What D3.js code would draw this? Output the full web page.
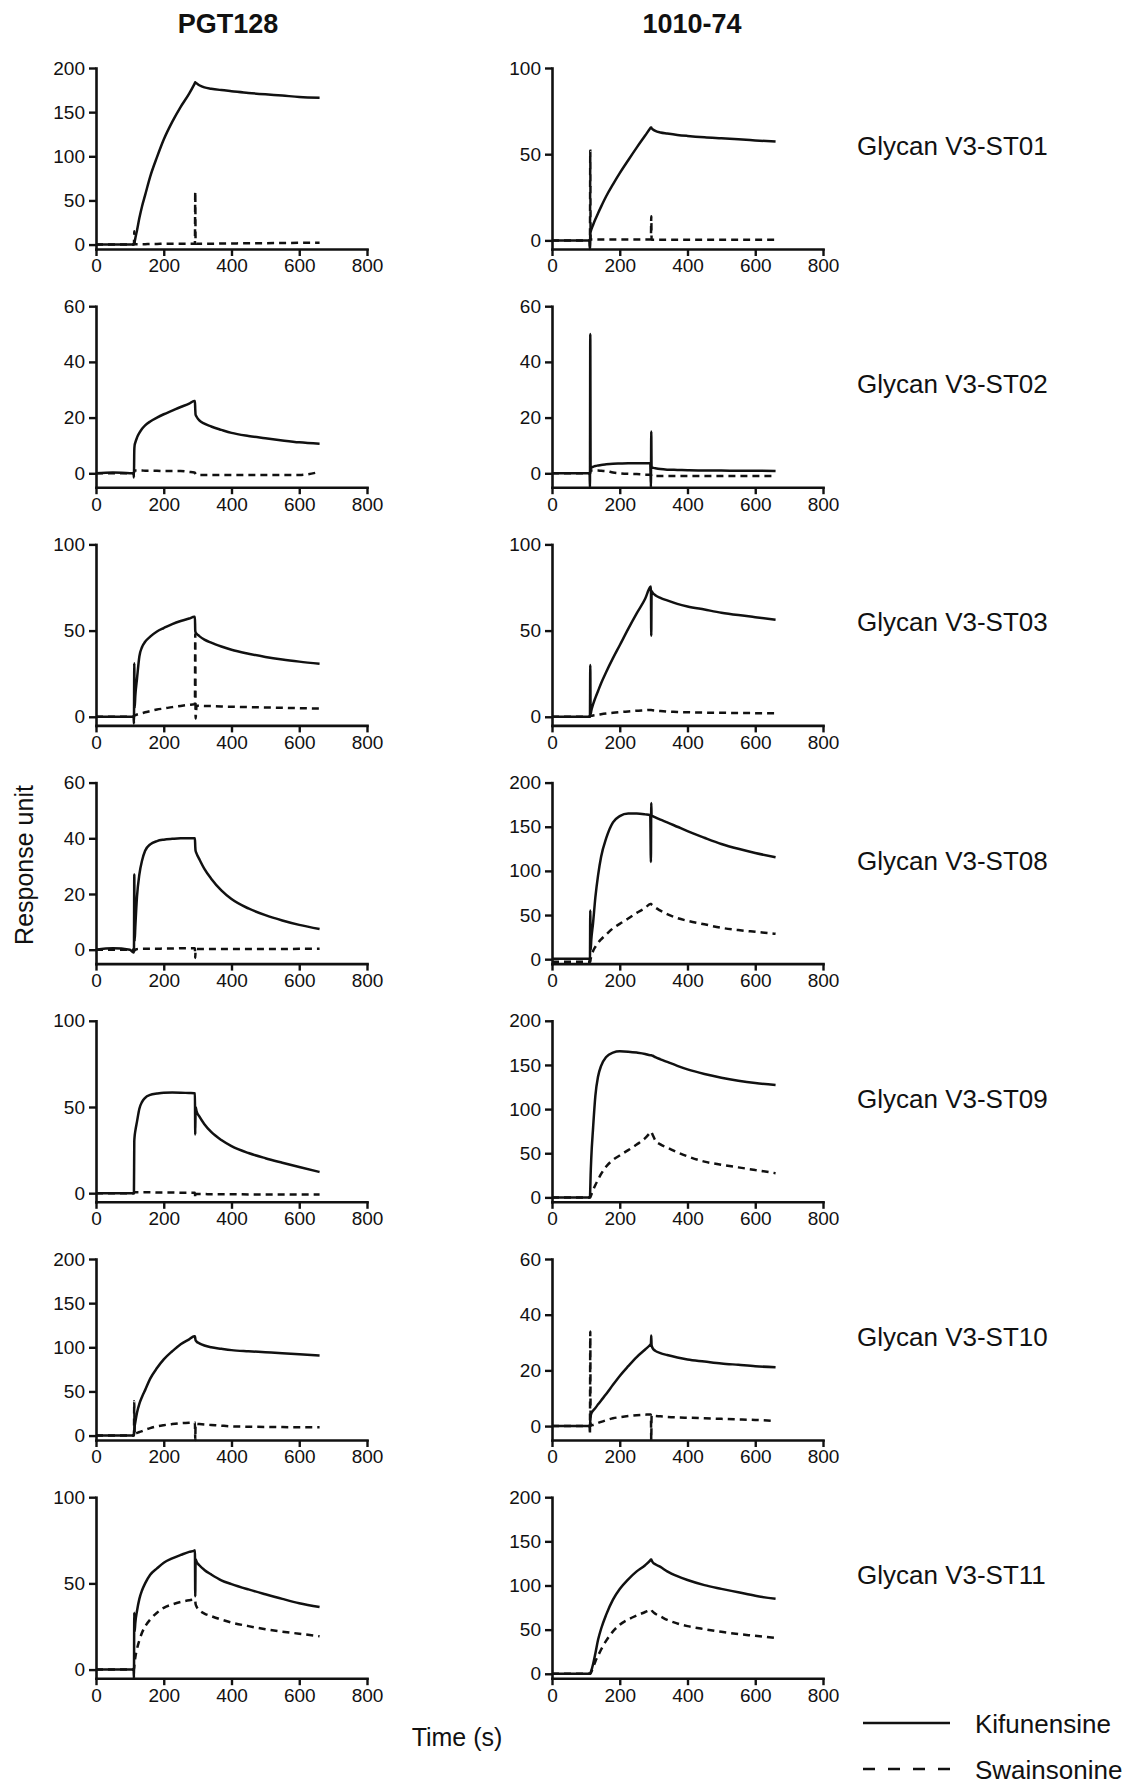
<!DOCTYPE html>
<html>
<head>
<meta charset="utf-8">
<script src="https://cdn.jsdelivr.net/npm/d3@7"></script>
<style>
  body { margin: 0; background: #fff; }
  text { font-family: "Liberation Sans", Arial, sans-serif; fill: #111; }
</style>
</head>
<body>
<div id="container"></div>
<script>
//----------------------------DATA----------------------------//
// shared time grid (s); 113 s = injection start, 293 s = dissociation start
const times = [0, 50, 100, 111, 112, 113, 114, 116, 121, 128, 136, 145, 160, 180, 200, 225, 250,
               275, 290, 292, 293, 294, 297, 305, 320, 340, 370, 400, 450, 500, 550, 600, 660];
const xTicks = [0, 200, 400, 600, 800];
const antibodies = ["PGT128", "1010-74"];
const glycans = ["Glycan V3-ST01", "Glycan V3-ST02", "Glycan V3-ST03", "Glycan V3-ST08",
                 "Glycan V3-ST09", "Glycan V3-ST10", "Glycan V3-ST11"];
const yMaxPGT128 = [200, 60, 100, 60, 100, 200, 100];
const yMax1010 = [100, 60, 100, 200, 200, 60, 200];
const yStepPGT128 = [50, 20, 50, 20, 50, 50, 50];
const yStep1010 = [50, 20, 50, 50, 50, 20, 50];
const legendLabels = ["Kifunensine", "Swainsonine"];

// PGT128
const kifPGT128_ST01 = [0,0,0,0,0,1,3,7,16,30,43.5,56,77,99,119,139,156,171,181.5,183,184,183,182.5,180.5,178,176.5,175,173.8,171.8,170.2,168.8,167.2,166.4];
const swaPGT128_ST01 = [0,0,0,0,0,15,0.5,0.5,0.5,0.5,0.5,0.5,0.8,0.8,1,1,1,1,1,1,60,1,1,1,1,1,1.2,1.3,1.5,1.6,1.8,2,2.2];
const kifPGT128_ST02 = [0,0.3,0,0,-1.5,8,10,11,12.8,14.5,16,17.2,18.6,20,21.2,22.5,23.8,25,26,26,23,21,20.3,19,17.8,16.8,15.6,14.5,13.4,12.6,11.8,11.1,10.6];
const swaPGT128_ST02 = [0,0,0,0,0,1,1,1,1,1,1,0.9,0.9,0.9,0.8,0.8,0.8,0.5,0.3,0.2,0,-0.3,-0.5,-0.6,-0.6,-0.6,-0.6,-0.6,-0.6,-0.6,-0.6,-0.6,0.5];
const kifPGT128_ST03 = [0,0,0,0,-4,31,5,12,22,35,40.5,43.5,46.5,49.5,51.5,53.8,55.6,57,58,58,50,49,48.2,46.8,44.8,43,40.8,38.9,36.6,34.7,33.2,32,30.8];
const swaPGT128_ST03 = [0,0,0,0,0,0.5,0.8,1,1.3,1.7,2.1,2.6,3.3,4.2,4.8,5.6,6.3,6.9,7.2,7.2,48,-1,6.5,6.4,6.3,6.2,6,5.8,5.6,5.4,5.2,5,4.8];
const kifPGT128_ST08 = [0,0.5,0,-1,-1,27,3,8,19,27,32,35.5,37.8,39,39.5,39.8,40,40,40,40,37,35.5,34.5,32.5,29,25.5,21.3,18.2,14.8,12.4,10.5,8.9,7.4];
const swaPGT128_ST08 = [0,0,0,0,0,0,-0.3,0,0.2,0.3,0.3,0.3,0.3,0.3,0.4,0.4,0.5,0.5,0.5,0.5,-3,0.2,0.2,0.2,0.2,0.2,0.2,0.2,0.2,0.2,0.2,0.3,0.3];
const kifPGT128_ST09 = [0,0,0,0,0,30,33,36,41.5,49,53,55.3,57,57.8,58.3,58.4,58.3,58.1,58,57.9,34,50,47.5,44.5,40,35.5,30.8,27.3,23.3,20.3,17.7,15.2,12.3];
const swaPGT128_ST09 = [0,0,0,0,0,0.5,0.5,0.5,0.5,0.5,0.5,0.5,0.5,0.4,0.4,0.4,0.3,0.3,0.3,0.3,-3,-0.3,-0.5,-0.5,-0.5,-0.6,-0.6,-0.6,-0.7,-0.7,-0.7,-0.8,-0.8];
const kifPGT128_ST10 = [0,0,0,0,0,5,10,15,26,36,44,51.5,64.5,76.5,86.3,95.5,103.5,109,112.5,112.5,110,108,106.5,104.5,102,100,98.3,96.8,95.5,94.4,93.3,92,90.8];
const swaPGT128_ST10 = [0,0,0,0,0,39,1,2,3,4,5,6.5,8.5,10.5,11.8,13,14,14.6,15,15,-5,13.5,13.3,13,12.5,12,11.2,10.5,10,9.8,9.6,9.5,9.4];
const kifPGT128_ST11 = [0,0,0,0,-5,33,22,27,34,41,46,50,55,58.7,62,64.5,66.5,68.3,69,69.2,42.5,64,62.5,60.5,57.8,55.2,51.8,49.6,46.5,43.7,41,38.5,36.3];
const swaPGT128_ST11 = [0,0,0,0,0,2,4,7,12,17,21.5,25,29,33,35.8,37.8,39.2,40.2,40.6,40.6,40,38,36.5,34.5,32.5,31,29,27.3,25.2,23.4,22,20.8,19.3];

// 1010-74
const kif1010_ST01 = [0,0,0,0,-5,4,5,6.2,8.8,12.2,15.8,19.6,25.6,32.5,39,46.5,53.8,60.8,65,65.5,65.5,65,64.5,63.5,62.6,62,61.2,60.6,59.8,59.2,58.6,58,57.3];
const swa1010_ST01 = [0,0,0,0,-5,52,0.5,0.5,0.5,0.5,0.5,0.5,0.5,0.5,0.5,0.5,0.5,0.5,0.5,0.5,14,0.3,0.3,0.3,0.3,0.3,0.3,0.3,0.3,0.3,0.3,0.3,0.3];
const kif1010_ST02 = [0,0,0,0,-5,50,1.5,2,2.3,2.6,2.8,3,3.2,3.4,3.5,3.6,3.6,3.6,3.6,-5,15,2.2,2,1.8,1.5,1.3,1.2,1.1,1,1,0.9,0.9,0.8];
const swa1010_ST02 = [0,0,0,0,0,0,1,1,1,1,1,0.9,0.8,0.3,0,-0.2,-0.3,-0.5,-0.5,-0.5,-0.7,-1,-1,-1,-1,-1,-1,-1,-1,-1,-1,-1,-1];
const kif1010_ST03 = [0,0,0,0,0,30,1.5,3.5,7,11,15,19.5,26,34,41.5,51,60,68.5,75.3,75.6,47,73,72,70.5,69,67.5,65.5,64,62.2,60.4,59,57.8,56.3];
const swa1010_ST03 = [0,0,0,0,0,0.3,0.5,0.6,0.8,1,1.2,1.5,1.9,2.3,2.7,3.1,3.5,3.8,4,4,4,3.9,3.8,3.6,3.3,3,2.8,2.6,2.4,2.3,2.2,2.1,2];
const kif1010_ST08 = [0.5,0.5,0.5,0.5,-3,55,10,22,40,70,95,116,137,155,162,165,165,164,163,110,177,162.5,162,160.5,158,155,150,145,137.5,130.5,125,120.3,115.5];
const swa1010_ST08 = [-3,-3,-3,-3,-3,-3,0,3,9,14,18.5,22.5,28,35,40,46,52.5,58,62.5,62.5,62.5,62,61,58.5,55,51,46.5,43.5,39.5,35.5,33,31,28.7];
const kif1010_ST09 = [0,0,0,0,0,10,25,45,77,115,137,149,159,164,165.5,165,164,162.5,161,161,161,160.8,160.4,158.8,156.4,153.4,149,145,139.8,135.6,132.2,129.5,127.2];
const swa1010_ST09 = [0,0,0,0,0,0,1,3,8,14,20,26.5,35,42.5,47.5,53.5,59.8,67,73.5,74.4,74.4,73.5,71,64.5,60,56.5,51,46.5,40.5,37,34,31,27.4];
const kif1010_ST10 = [0,0,0,0,0,2,3.5,4.5,5.5,6.5,7.8,9.2,11.5,14.8,18,21.5,24.8,27.5,29.2,29.5,32.5,29,28,27,26.2,25.5,24.6,23.9,23.2,22.5,22,21.5,21.1];
const swa1010_ST10 = [0,0,0,0,-3,34,0,0.2,0.4,0.7,1.1,1.5,2.1,2.8,3.2,3.6,3.9,4.1,4.2,4.2,-5,3.8,3.7,3.6,3.5,3.3,3.1,3,2.8,2.6,2.4,2.2,1.8];
const kif1010_ST11 = [0,0,0,0,0,0.5,1.5,3.5,10.5,23,38.5,51,67,84,96,107,116,123,128.5,129.4,129.4,128.5,126.5,124,121,116,110.5,106.2,100.4,96.2,92.3,88.3,85];
const swa1010_ST11 = [0,0,0,0,0,0,0.5,2,7,14,20.5,27.5,37.5,48,55.5,61.5,66,70,72.5,72.8,72.8,72,70.5,68,65,61,57,54,50.5,47.5,45,43,40.5];

const kifSeries = [
    [kifPGT128_ST01, kifPGT128_ST02, kifPGT128_ST03, kifPGT128_ST08, kifPGT128_ST09, kifPGT128_ST10, kifPGT128_ST11],
    [kif1010_ST01, kif1010_ST02, kif1010_ST03, kif1010_ST08, kif1010_ST09, kif1010_ST10, kif1010_ST11]
];
const swaSeries = [
    [swaPGT128_ST01, swaPGT128_ST02, swaPGT128_ST03, swaPGT128_ST08, swaPGT128_ST09, swaPGT128_ST10, swaPGT128_ST11],
    [swa1010_ST01, swa1010_ST02, swa1010_ST03, swa1010_ST08, swa1010_ST09, swa1010_ST10, swa1010_ST11]
];
const yMaxes = [yMaxPGT128, yMax1010];
const ySteps = [yStepPGT128, yStep1010];

//---------------------------LAYOUT---------------------------//
const width = 1145, height = 1786;
const colX = [96, 552];
const plotW = 271, plotH = 181;
const rowTop0 = 68, rowGap = 238.2;
const titleX = [228, 692];
const dash = "7,5";

const svg = d3.select("#container").append("svg")
    .attr("width", width)
    .attr("height", height)
    .style("display", "block");
svg.append("rect").attr("width", width).attr("height", height).attr("fill", "#fff");

// column titles
antibodies.forEach(function (name, c) {
    svg.append("text")
        .attr("x", titleX[c])
        .attr("y", 33)
        .attr("text-anchor", "middle")
        .style("font-size", "27px")
        .style("font-weight", "bold")
        .text(name);
});

const line = d3.line()
    .curve(d3.curveMonotoneX);

function styleAxis(g) {
    g.selectAll("path.domain").attr("stroke", "#111").attr("stroke-width", 2.6).attr("stroke-linecap", "square");
    g.selectAll(".tick line").attr("stroke", "#111").attr("stroke-width", 2.4);
    g.selectAll(".tick text").style("font-size", "19px").attr("fill", "#111")
        .style("font-family", '"Liberation Sans", Arial, sans-serif');
}

for (let c = 0; c < 2; c++) {
    for (let r = 0; r < glycans.length; r++) {
        const top = rowTop0 + r * rowGap;
        const x = d3.scaleLinear().domain([0, 800]).range([colX[c], colX[c] + plotW]);
        const y = d3.scaleLinear().domain([-5, yMaxes[c][r]]).range([top + plotH, top]);

        const g = svg.append("g").attr("class", "panel");

        g.append("g")
            .attr("transform", "translate(0," + (top + plotH) + ")")
            .call(d3.axisBottom(x).tickValues(xTicks).tickSize(7).tickSizeOuter(0).tickPadding(3))
            .call(styleAxis);

        g.append("g")
            .attr("transform", "translate(" + colX[c] + ",0)")
            .call(d3.axisLeft(y)
                .tickValues(d3.range(0, yMaxes[c][r] + 1, ySteps[c][r]))
                .tickSize(7).tickSizeOuter(0).tickPadding(4))
            .call(styleAxis);

        line.x(function (d, i) { return x(times[i]); })
            .y(function (d) { return y(d); });

        g.append("path")
            .attr("d", line(kifSeries[c][r]))
            .attr("fill", "none")
            .attr("stroke", "#111")
            .attr("stroke-width", 2.5)
            .attr("stroke-linejoin", "round");

        g.append("path")
            .attr("d", line(swaSeries[c][r]))
            .attr("fill", "none")
            .attr("stroke", "#111")
            .attr("stroke-width", 2.5)
            .attr("stroke-dasharray", dash);

        if (c === 1) {
            svg.append("text")
                .attr("x", 857)
                .attr("y", top + 87)
                .style("font-size", "26px")
                .text(glycans[r]);
        }
    }
}

// axis titles
svg.append("text")
    .attr("x", 457)
    .attr("y", 1746)
    .attr("text-anchor", "middle")
    .style("font-size", "25px")
    .text("Time (s)");

svg.append("text")
    .attr("transform", "translate(33,865) rotate(-90)")
    .attr("text-anchor", "middle")
    .style("font-size", "25px")
    .text("Response unit");

// legend
const legend = svg.append("g");
legendLabels.forEach(function (lab, i) {
    const ly = [1723, 1769][i];
    legend.append("line")
        .attr("x1", 863).attr("x2", 950)
        .attr("y1", ly).attr("y2", ly)
        .attr("stroke", "#111")
        .attr("stroke-width", 2.6)
        .attr("stroke-dasharray", i === 1 ? "12,13" : null);
    legend.append("text")
        .attr("x", 975)
        .attr("y", ly + 10)
        .style("font-size", "26px")
        .text(lab);
});
</script>
</body>
</html>
